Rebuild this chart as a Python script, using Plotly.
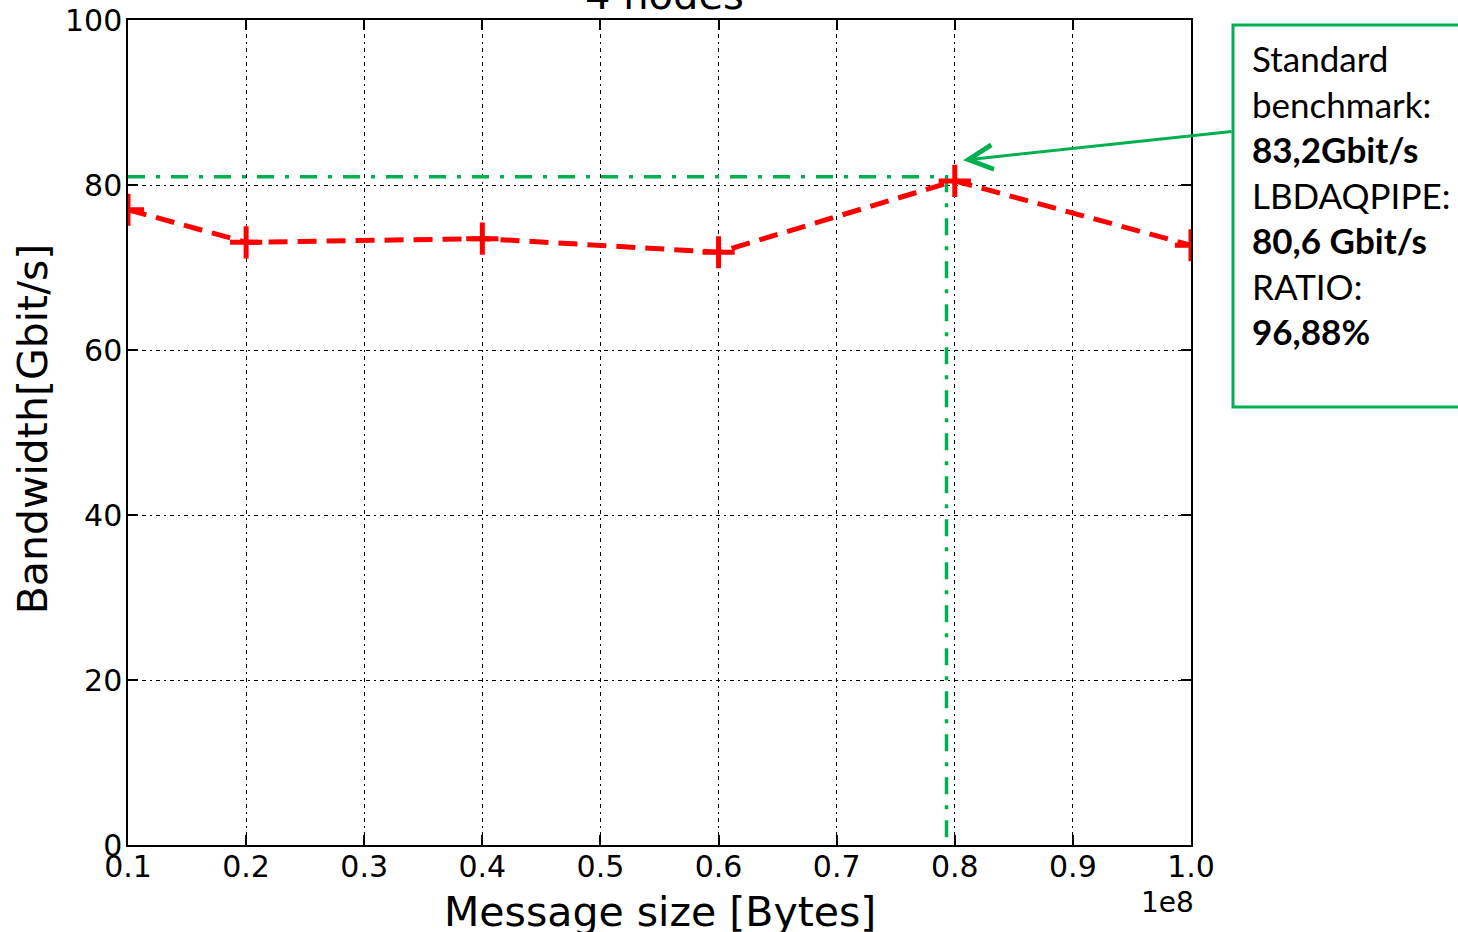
import plotly.graph_objects as go

# ---- data ----
msg_size = [1e7, 2e7, 4e7, 6e7, 8e7, 1e8]
bandwidth = [77.0, 73.05, 73.5, 71.85, 80.5, 72.7]
ref_x = [1e7, 7.93e7, 7.93e7]
ref_y = [81.0, 81.0, 0.0]
x_tickvals = [1e7, 2e7, 3e7, 4e7, 5e7, 6e7, 7e7, 8e7, 9e7, 1e8]
x_ticktext = ["0.1", "0.2", "0.3", "0.4", "0.5", "0.6", "0.7", "0.8", "0.9", "1.0"]
y_tickvals = [0, 20, 40, 60, 80, 100]
box_lines = ["Standard", "benchmark:", "<b>83,2Gbit/s</b>", "LBDAQPIPE:",
             "<b>80,6 Gbit/s</b>", "RATIO:", "<b>96,88%</b>"]
arrow_target = (8.07e7, 83.0)

GREEN = "#00B050"
RED = "#FF0000"
FONT = "DejaVu Sans"

fig = go.Figure()
fig.add_trace(go.Scatter(
    x=ref_x, y=ref_y, mode="lines",
    line=dict(color=GREEN, width=3.5, dash="17px,11px,4px,11px"),
    hoverinfo="skip", showlegend=False))
fig.add_trace(go.Scatter(
    x=msg_size, y=bandwidth, mode="lines+markers",
    line=dict(color=RED, width=5, dash="19px,10px"),
    marker=dict(symbol="cross-thin", size=23, color=RED,
                line=dict(color=RED, width=5)),
    showlegend=False))

axis_common = dict(
    showline=True, linecolor="black", linewidth=1.5, mirror="allticks",
    ticks="inside", ticklen=10, tickwidth=1.5, tickcolor="black",
    showgrid=True, gridcolor="black", gridwidth=1.2, griddash="4px,4px,2px,4px",
    zeroline=False, tickfont=dict(family=FONT, size=30, color="black"),
)
fig.update_xaxes(range=[1e7, 1e8], tickvals=x_tickvals, ticktext=x_ticktext,
                 ticklabelstandoff=-6, **axis_common)
fig.update_yaxes(range=[0, 100], tickvals=y_tickvals, ticklabelstandoff=-2,
                 **axis_common)

fig.update_layout(
    width=1458, height=932,
    margin=dict(l=128, r=267, t=20, b=87, autoexpand=False),
    plot_bgcolor="white", paper_bgcolor="white",
    font=dict(family=FONT, color="black"),
)

# titles
fig.add_annotation(text="4 nodes", xref="paper", yref="paper", x=0.505, y=1.0,
                   xanchor="center", yanchor="bottom", showarrow=False,
                   font=dict(family=FONT, size=40, color="black"))
fig.add_annotation(text="Message size [Bytes]", xref="paper", yref="paper",
                   x=0.5005, y=-0.081, xanchor="center", yanchor="middle",
                   showarrow=False, font=dict(family=FONT, size=41, color="black"))
fig.add_annotation(text="Bandwidth[Gbit/s]", xref="paper", yref="paper",
                   x=-0.0894, y=0.505, xanchor="center", yanchor="middle",
                   textangle=-90, showarrow=False,
                   font=dict(family=FONT, size=41, color="black"))
fig.add_annotation(text="1e8", xref="paper", yref="paper", x=0.978, y=-0.070,
                   xanchor="center", yanchor="middle", showarrow=False,
                   font=dict(family=FONT, size=28, color="black"))

# callout box
fig.add_shape(type="rect", xref="paper", yref="paper",
              x0=1.0395, x1=1.27, y0=0.531, y1=0.994,
              line=dict(color=GREEN, width=3), fillcolor="white", layer="above")
fig.add_annotation(text="<br>".join(box_lines), xref="paper", yref="paper",
                   x=1.0555, y=0.789, xanchor="left", yanchor="middle",
                   align="left", showarrow=False,
                   font=dict(family="Lato", size=35, color="black"))
fig.add_annotation(x=arrow_target[0], y=arrow_target[1], xref="x", yref="y",
                   ax=270, ay=-29, axref="pixel", ayref="pixel", text="",
                   showarrow=True, arrowhead=5, arrowsize=1.6, arrowwidth=3,
                   arrowcolor=GREEN)

fig.write_html("out.html", config={"displayModeBar": False},
               post_script="document.body.style.margin='0px';"
                           "document.body.style.overflow='hidden';")
